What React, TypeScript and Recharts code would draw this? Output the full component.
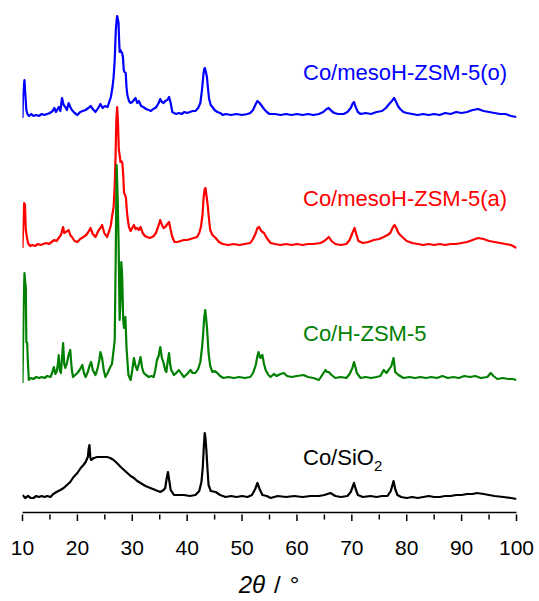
import { Line, LineChart, XAxis, YAxis } from "recharts";

// 2θ (deg) vs. intensity (a.u., height above each trace's own baseline)
const mesoO: [number, number][] = [
  [10.0, -3], [10.1, 20], [10.36, 35], [10.5, 22], [10.7, 5], [10.9, 1], [11.2, -1], [11.6, 1], [12, -1], [12.5, 0],
  [13, -1], [13.5, 1], [14, 0], [14.5, 1], [15, 2], [15.5, 4], [15.8, 7], [16.1, 3], [16.6, 8], [16.9, 4],
  [17.2, 17], [17.5, 10], [17.8, 8], [18.1, 5], [18.4, 12], [18.7, 8], [19.0, 5], [19.5, 2], [20, 0], [20.5, 3],
  [21, 4], [21.5, 5], [22.0, 7], [22.4, 9], [22.8, 6], [23.3, 3], [23.8, 7], [24.2, 11], [24.6, 7], [25.0, 9],
  [25.5, 8], [25.8, 13], [26.1, 18], [26.4, 28], [26.6, 38], [26.8, 55], [27.0, 85], [27.15, 95], [27.25, 99], [27.4, 95],
  [27.5, 92], [27.6, 75], [27.7, 63], [27.85, 65], [28.0, 63], [28.15, 62], [28.3, 58], [28.45, 45], [28.6, 43], [28.8, 42],
  [28.95, 28], [29.1, 20], [29.4, 14], [29.7, 12], [30.0, 13], [30.3, 15], [30.6, 17], [30.9, 12], [31.2, 14], [31.6, 9],
  [32, 8], [32.5, 6], [33, 5], [33.4, 4], [33.8, 6], [34.2, 7], [34.5, 9], [34.8, 12], [35.1, 16], [35.4, 13],
  [35.7, 12], [36.0, 14], [36.4, 15], [36.7, 18], [37.0, 12], [37.3, 3], [37.6, 2], [38, 1], [38.5, 2], [39, 1],
  [39.5, 3], [40, 2], [40.5, 3], [41, 4], [41.5, 4], [42, 7], [42.4, 12], [42.7, 25], [42.95, 40], [43.1, 46],
  [43.25, 47], [43.45, 42], [43.6, 38], [43.8, 26], [44.0, 16], [44.3, 10], [44.6, 8], [45, 5], [45.5, 3], [46, 2],
  [46.5, 0], [47, 1], [48, 0], [49, 1], [50, 0], [51, 1], [51.5, 2], [52, 5], [52.5, 11], [52.8, 14],
  [53.2, 12], [53.6, 9], [54, 6], [54.5, 3], [55, 1], [56, 1], [57, 0], [58, 1], [59, 0], [60, 1],
  [61, 0], [62, 1], [63, 0], [64, 1], [64.8, 3], [65.4, 6], [65.8, 7], [66.3, 4], [66.8, 2], [67.5, 1],
  [68.5, 1], [69.2, 3], [69.8, 7], [70.2, 12], [70.4, 13], [70.7, 8], [71.1, 3], [71.6, 1], [72.5, 2], [73.5, 1],
  [74.5, 3], [75.5, 4], [76.2, 7], [76.8, 11], [77.3, 14], [77.7, 17], [78.0, 14], [78.4, 9], [78.8, 6], [79.4, 3],
  [80, 2], [81, 1], [82, 0], [83, 1], [84, 0], [85, 1], [86, 0], [87, 2], [88, 1], [89, 3],
  [90, 2], [91, 3], [92, 5], [93, 6], [94, 4], [95, 3], [96, 2], [97, 1], [98, 1], [99, -1], [100, -2],
];

const mesoA: [number, number][] = [
  [10.0, -3], [10.1, 15], [10.3, 42], [10.45, 40], [10.6, 15], [10.8, 8], [11.0, 2], [11.4, -1], [11.8, 0], [12.3, -1],
  [12.8, 1], [13.3, 0], [13.8, 1], [14.3, 2], [14.8, 1], [15.3, 3], [15.8, 5], [16.2, 4], [16.6, 7], [17.0, 10],
  [17.4, 18], [17.6, 12], [17.9, 13], [18.2, 14], [18.4, 15], [18.7, 10], [19.0, 8], [19.5, 4], [20, 3], [20.5, 6],
  [21.1, 8], [21.6, 10], [22.0, 13], [22.4, 17], [22.8, 11], [23.3, 8], [23.8, 14], [24.2, 17], [24.5, 20], [24.9, 12],
  [25.4, 8], [25.8, 14], [26.1, 20], [26.3, 28], [26.6, 38], [26.8, 60], [26.95, 88], [27.1, 125], [27.25, 138], [27.4, 122],
  [27.55, 95], [27.7, 90], [27.85, 83], [28.0, 84], [28.2, 82], [28.35, 70], [28.5, 52], [28.7, 50], [28.85, 47], [29.0, 35],
  [29.15, 27], [29.4, 18], [29.7, 14], [30.0, 17], [30.3, 20], [30.6, 16], [30.9, 17], [31.2, 15], [31.5, 18], [31.9, 12],
  [32.3, 9], [32.7, 8], [33.2, 7], [33.6, 8], [33.9, 9], [34.3, 12], [34.7, 18], [35.1, 25], [35.4, 20], [35.7, 17],
  [36.0, 18], [36.4, 21], [36.7, 23], [37.0, 15], [37.3, 8], [37.7, 3], [38.2, 3], [38.8, 4], [39.4, 5], [40, 5],
  [40.6, 6], [41.2, 7], [41.8, 8], [42.2, 12], [42.5, 18], [42.8, 30], [43.0, 48], [43.2, 56], [43.35, 57], [43.5, 50],
  [43.7, 42], [43.9, 30], [44.2, 15], [44.6, 10], [45.2, 7], [45.8, 3], [46.5, 1], [47.5, 0], [48.5, 1], [49.5, 0],
  [50.5, 1], [51.5, 2], [52.0, 6], [52.5, 12], [52.8, 17], [53.1, 18], [53.5, 14], [54.0, 12], [54.5, 7], [55.2, 2],
  [56, 1], [57, 0], [58, 1], [59, 0], [60, 1], [61, 0], [62, 1], [63, 1], [64.3, 2], [65.0, 4],
  [65.8, 8], [66.3, 4], [67, 1], [68, 0], [69, 1], [69.6, 5], [70.1, 12], [70.5, 17], [70.8, 11], [71.2, 4],
  [72, 2], [73, 3], [74, 5], [75, 6], [75.8, 8], [76.5, 10], [77.0, 12], [77.5, 18], [77.8, 20], [78.1, 17],
  [78.5, 12], [79.0, 9], [79.4, 7], [80, 4], [81, 2], [82, 1], [83, 0], [84, 1], [85, 0], [86, 1],
  [87, 0], [88, 1], [89, 1], [90, 2], [91, 3], [92, 5], [93, 7], [94, 6], [95, 4], [96, 3],
  [97, 2], [98, 1], [99, 0], [100, -3],
];

const hzsm5: [number, number][] = [
  [10.0, -5], [10.08, 25], [10.2, 70], [10.36, 105], [10.5, 95], [10.6, 91], [10.7, 36], [10.85, 35], [10.95, 20], [11.15, -2],
  [11.5, 0], [12, -1], [12.5, 1], [13, 0], [13.5, 1], [14, 0], [14.5, 2], [15.1, 1], [15.4, 5], [15.7, 11],
  [16.0, 4], [16.2, 6], [16.4, 12], [16.6, 23], [16.8, 8], [17.0, 5], [17.2, 20], [17.4, 35], [17.6, 14], [17.8, 10],
  [18.1, 15], [18.4, 23], [18.7, 28], [18.95, 10], [19.2, 1], [19.6, 3], [20, 5], [20.4, 8], [20.9, 13], [21.2, 5],
  [21.5, 1], [21.9, 6], [22.2, 12], [22.5, 16], [22.8, 8], [23.3, 3], [23.7, 10], [24.0, 18], [24.2, 26], [24.5, 20],
  [24.8, 8], [25.1, 1], [25.5, 5], [26.0, 11], [26.3, 14], [26.6, 28], [26.8, 38], [27.0, 128], [27.15, 213], [27.35, 178],
  [27.5, 138], [27.7, 58], [27.85, 78], [28.0, 116], [28.15, 103], [28.35, 58], [28.5, 50], [28.75, 61], [28.95, 30], [29.3, 3],
  [29.7, -2], [30.0, 8], [30.3, 20], [30.6, 12], [30.9, 8], [31.2, 14], [31.5, 21], [31.8, 10], [32.1, 5], [32.5, 3],
  [33, 1], [33.5, 2], [33.9, 1], [34.2, 8], [34.5, 18], [34.8, 22], [35.1, 31], [35.4, 20], [35.7, 15], [36.0, 8],
  [36.2, 6], [36.5, 18], [36.7, 25], [36.9, 14], [37.1, 8], [37.6, 3], [38.0, 5], [38.5, 8], [39.0, 4], [39.4, 1],
  [40.0, 4], [40.6, 8], [41.0, 5], [41.5, 5], [42.0, 9], [42.4, 16], [42.7, 30], [42.9, 43], [43.1, 60], [43.3, 68],
  [43.45, 60], [43.6, 51], [43.9, 25], [44.2, 12], [44.6, 6], [45.0, 7], [45.5, 5], [46, 2], [46.6, 0], [47.5, 1],
  [48.5, 0], [49.5, 1], [50.5, 0], [51.5, 1], [52.0, 5], [52.5, 13], [52.8, 22], [53.0, 26], [53.3, 20], [53.7, 23],
  [54.0, 14], [54.3, 8], [54.8, 3], [55.2, 1], [55.8, 4], [56.3, 2], [57.0, 4], [57.6, 5], [58.2, 2], [59, 1],
  [60, 2], [61.2, 3], [62, 1], [63, 0], [64, -2], [64.6, 3], [65.2, 8], [65.5, 6], [65.8, 6], [66.3, 3],
  [67, 0], [68, 1], [69, 0], [69.6, 4], [70.1, 10], [70.4, 16], [70.7, 10], [70.9, 5], [71.6, 0], [72.5, 1],
  [73.5, 0], [74.5, 1], [75.2, 2], [75.8, 8], [76.3, 5], [76.7, 8], [77.2, 12], [77.6, 20], [77.9, 6], [78.5, 3],
  [79.4, 0], [80.5, 1], [81.5, 0], [82.5, 1], [83.5, 0], [84.5, 1], [85.5, 0], [86.5, 2], [87.5, 0], [88.5, 1],
  [89.5, 0], [90.5, 2], [91.5, 1], [92.5, 2], [93.5, 0], [94.7, 1], [95.3, 5], [95.8, 2], [96.5, -1], [97.5, 0],
  [98.5, -1], [99.3, -1], [100, -2],
];

const sio2: [number, number][] = [
  [10.0, 2], [10.5, -1], [11, 1], [11.5, -1], [12, -1], [12.5, 1], [13, 0], [13.5, 1], [14, 0], [14.5, 1],
  [15.1, 0], [15.6, 3], [16.2, 5], [16.9, 7], [17.5, 9], [18.1, 12], [18.7, 15], [19.3, 20], [20.0, 24], [20.6, 29],
  [21.1, 32], [21.5, 35], [21.9, 40], [22.05, 48], [22.2, 52], [22.35, 40], [22.5, 37], [23.0, 39], [23.6, 40], [24.2, 40],
  [24.8, 40], [25.4, 40], [26.0, 39], [26.6, 37], [27.2, 34], [27.9, 30], [28.5, 27], [29.1, 24], [29.7, 21], [30.3, 19],
  [30.9, 16], [31.5, 14], [32.4, 11], [33.3, 9], [34.2, 7], [35.1, 5], [35.7, 7], [36.0, 9], [36.25, 18], [36.5, 25],
  [36.75, 16], [37.0, 7], [37.6, 2], [38.5, 2], [39.4, 2], [40.5, 1], [41.5, 2], [42.2, 6], [42.6, 15], [42.85, 30],
  [43.05, 52], [43.2, 64], [43.35, 58], [43.5, 47], [43.7, 28], [43.9, 12], [44.3, 6], [45.2, 5], [46, 2], [47, 0],
  [48, 1], [49, 0], [50, 1], [51, 0], [51.8, 2], [52.4, 8], [52.8, 14], [53.2, 8], [53.7, 2], [54.5, 1],
  [55.2, -1], [56.5, 1], [58, 0], [59.5, 1], [61, 0], [62.5, 1], [64, 1], [65, 2], [66.1, 4], [67, 1],
  [68, 0], [69.2, 1], [69.8, 5], [70.2, 11], [70.4, 14], [70.7, 8], [71.1, 2], [72, 0], [73.4, 1], [74.5, 0],
  [75.5, 1], [76.5, 1], [77.1, 6], [77.6, 16], [77.9, 8], [78.3, 2], [79, 0], [80, -1], [81, 0], [82, -1],
  [83, 0], [84, 1], [85, 0], [86, 0], [87, 1], [88, 1], [89, 2], [90, 2], [91, 3], [92, 3],
  [92.8, 4], [94, 3], [95, 2], [96, 1], [97.6, 0], [99, -1], [100, -2],
];

const ticks = [10, 15, 20, 25, 30, 35, 40, 45, 50, 55, 60, 65, 70, 75, 80, 85, 90, 95, 100];

const FONT = '"Liberation Sans", Arial, sans-serif';
const W = 539;
const H = 601;
const AXIS_Y = 512.5;

// vertical stacking offsets of the traces
const traces = [
  { name: "Co/mesoH-ZSM-5(o)", data: mesoO, offset: 397.5, color: "#0000ff" },
  { name: "Co/mesoH-ZSM-5(a)", data: mesoA, offset: 267.5, color: "#ff0000" },
  { name: "Co/H-ZSM-5", data: hzsm5, offset: 134.5, color: "#008000" },
  { name: "Co/SiO2", data: sio2, offset: 15.5, color: "#000000" },
];

function AxisTick({ x, y, payload }: any) {
  const major = payload.value % 10 === 0;
  return (
    <g>
      <line x1={x} x2={x} y1={y} y2={y + (major ? 6.5 : 5)} stroke="#000" strokeWidth={1.5} />
      {major && (
        <text x={x} y={y + 40.5} textAnchor="middle" fontSize={21} fontFamily={FONT} fill="#000">
          {payload.value}
        </text>
      )}
    </g>
  );
}

export default function App() {
  return (
    <div style={{ position: "absolute", left: 0, top: 0, width: W, height: H, background: "#fff" }}>
      <LineChart width={W} height={H} margin={{ top: 0, right: 22.5, bottom: H - AXIS_Y - 30, left: 22.5 }}>
        <XAxis
          type="number"
          dataKey="x"
          domain={[10, 100]}
          ticks={ticks}
          interval={0}
          tickSize={0}
          tickLine={false}
          tick={<AxisTick />}
          axisLine={{ stroke: "#000", strokeWidth: 1.5 }}
          height={30}
          allowDataOverflow
        />
        <YAxis type="number" hide domain={[0, AXIS_Y]} allowDataOverflow />
        {traces.map((t) => (
          <Line
            key={t.name}
            data={t.data.map(([a, v]) => ({ x: a, y: v + t.offset }))}
            dataKey="y"
            type="linear"
            stroke={t.color}
            strokeWidth={2.2}
            strokeLinejoin="round"
            dot={false}
            activeDot={false}
            isAnimationActive={false}
          />
        ))}
      </LineChart>
      <svg width={W} height={H} style={{ position: "absolute", left: 0, top: 0, pointerEvents: "none" }}>
        <g fontFamily={FONT} fontSize={22}>
          <text x={303} y={80} fill="#0000ff">Co/mesoH-ZSM-5(o)</text>
          <text x={303} y={206} fill="#ff0000">Co/mesoH-ZSM-5(a)</text>
          <text x={303} y={341} fill="#008000">Co/H-ZSM-5</text>
          <text x={303} y={465} fill="#000">
            Co/SiO<tspan fontSize={15} dy={6}>2</tspan>
          </text>
        </g>
        <text x={269} y={593} textAnchor="middle" fontFamily={FONT} fontSize={24} fill="#000">
          <tspan fontStyle="italic">2θ</tspan>
          <tspan dx={9}>/</tspan>
          <tspan dx={9}>°</tspan>
        </text>
      </svg>
    </div>
  );
}
